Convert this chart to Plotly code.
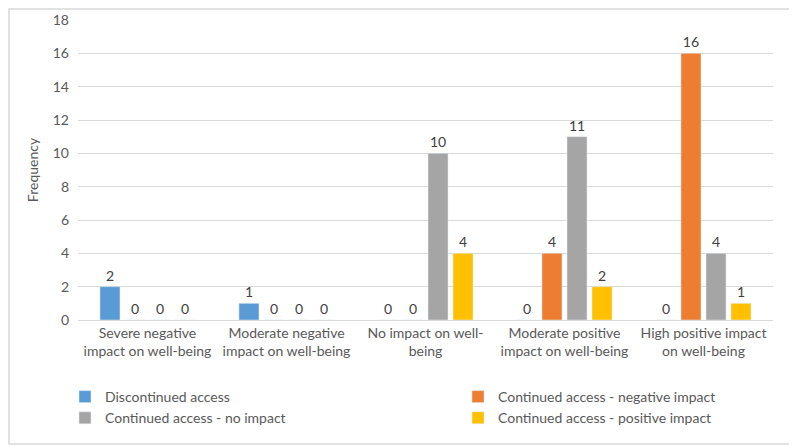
import plotly.graph_objects as go

categories = ["Severe negative<br>impact on well-being",
              "Moderate negative<br>impact on well-being",
              "No impact on well-<br>being",
              "Moderate positive<br>impact on well-being",
              "High positive impact<br>on well-being"]
series_names = ["Discontinued access",
                "Continued access - negative impact",
                "Continued access - no impact",
                "Continued access - positive impact"]
discontinued = [2, 1, 0, 0, 0]
cont_negative = [0, 0, 0, 4, 16]
cont_none = [0, 0, 10, 11, 4]
cont_positive = [0, 0, 4, 2, 1]
colors = ["#5B9BD5", "#ED7D31", "#A5A5A5", "#FFC000"]
legend_ids = ["legend", "legend2", "legend", "legend2"]

font_family = "Lato, Open Sans, sans-serif"
fs = 14
fig = go.Figure()
for name, vals, col, lg in zip(series_names, [discontinued, cont_negative, cont_none, cont_positive], colors, legend_ids):
    fig.add_trace(go.Bar(
        x=categories, y=vals, name=name, marker_color=col, legend=lg,
        text=[str(v) for v in vals], textposition="outside",
        textfont=dict(size=fs, color="#404040", family=font_family),
        cliponaxis=False,
    ))

# page body has an 8px margin, so the figure is drawn 8px in from the top-left
W, H = 789, 438
ml, mr, mt, mb = 70, 24, 12, 126
pw, ph = W - ml - mr, H - mt - mb
leg_top = 373
leg_common = dict(orientation="v", yanchor="top", xanchor="left",
                  font=dict(size=fs, color="#595959", family=font_family),
                  itemwidth=30, tracegroupgap=0, bgcolor="rgba(0,0,0,0)",
                  traceorder="normal")
fig.update_layout(
    width=W, height=H,
    margin=dict(l=ml, r=mr, t=mt, b=mb, autoexpand=False),
    paper_bgcolor="white", plot_bgcolor="white",
    barmode="group", bargap=0.28, bargroupgap=0.2,
    font=dict(family=font_family, size=fs, color="#595959"),
    xaxis=dict(showgrid=False, showline=True, linecolor="#D9D9D9", linewidth=1,
               tickangle=0, tickfont=dict(size=fs, color="#595959"), ticks=""),
    yaxis=dict(range=[0, 18], dtick=2, showgrid=True, gridcolor="#D9D9D9",
               zeroline=False, showline=False, ticks="", ticklabelstandoff=8,
               tickfont=dict(size=fs, color="#595959"),
               title=dict(text="Frequency", font=dict(size=fs, color="#595959"), standoff=10)),
    legend=dict(x=(57 - ml) / pw, y=-(leg_top - mt - ph) / ph, **leg_common),
    legend2=dict(x=(450 - ml) / pw, y=-(leg_top - mt - ph) / ph, **leg_common),
    shapes=[dict(type="rect", xref="paper", yref="paper",
                 x0=-(ml - 1) / pw, x1=1 + (mr - 2) / pw, y0=-(mb - 2) / ph, y1=1 + (mt - 1) / ph,
                 line=dict(color="#D9D9D9", width=1.5), fillcolor="rgba(0,0,0,0)", layer="below")],
)
fig.write_html("out.html")
